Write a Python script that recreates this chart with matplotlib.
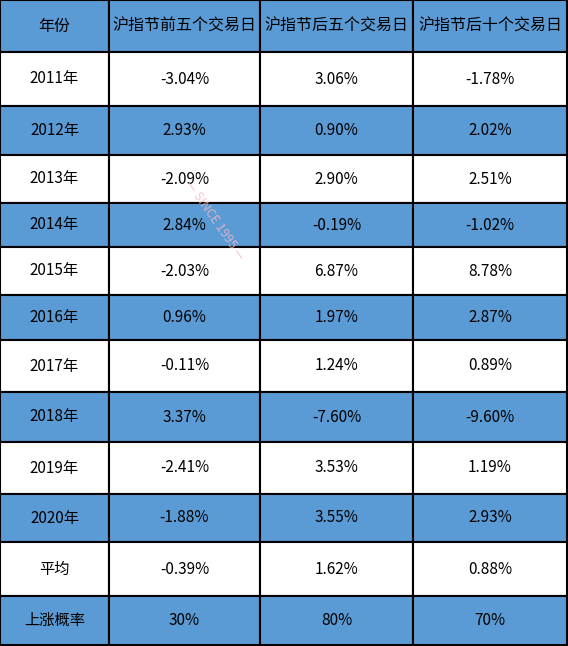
import matplotlib
matplotlib.use("Agg")
import matplotlib.pyplot as plt
from matplotlib.patches import Rectangle

plt.rcParams['font.family'] = ['Noto Sans CJK SC', 'DejaVu Sans']

headers = ["年份", "沪指节前五个交易日", "沪指节后五个交易日", "沪指节后十个交易日"]
years = ["2011年","2012年","2013年","2014年","2015年","2016年","2017年","2018年","2019年","2020年","平均","上涨概率"]
before5 = ["-3.04%","2.93%","-2.09%","2.84%","-2.03%","0.96%","-0.11%","3.37%","-2.41%","-1.88%","-0.39%","30%"]
after5 = ["3.06%","0.90%","2.90%","-0.19%","6.87%","1.97%","1.24%","-7.60%","3.53%","3.55%","1.62%","80%"]
after10 = ["-1.78%","2.02%","2.51%","-1.02%","8.78%","2.87%","0.89%","-9.60%","1.19%","2.93%","0.88%","70%"]

W, H = 568, 646
xb = [0, 109, 260, 413, 567]
yb = [0, 52, 106, 155, 203, 247, 295, 340, 392, 442, 494, 542, 596, 645]
blue = "#5B9BD5"

fig = plt.figure(figsize=(W/100, H/100), dpi=100)
ax = fig.add_axes([0, 0, 1, 1])
ax.set_xlim(0, W); ax.set_ylim(H, 0); ax.axis('off')

rows = [headers] + [[years[i], before5[i], after5[i], after10[i]] for i in range(len(years))]
for r, row in enumerate(rows):
    fc = blue if r % 2 == 0 else "white"
    for c, txt in enumerate(row):
        ax.add_patch(Rectangle((xb[c], yb[r]), xb[c+1]-xb[c], yb[r+1]-yb[r],
                               facecolor=fc, edgecolor="black", lw=1.5))
        ax.text((xb[c]+xb[c+1])/2, (yb[r]+yb[r+1])/2, txt, ha='center', va='center',
                fontsize=11.5 if r == 0 else 11, color='black')

ax.text(215, 220, "— SINCE 1995 —", rotation=-55, ha='center', va='center', fontsize=9,
        color='#f4b8c4', alpha=0.8)
fig.savefig("out.png", dpi=100)
